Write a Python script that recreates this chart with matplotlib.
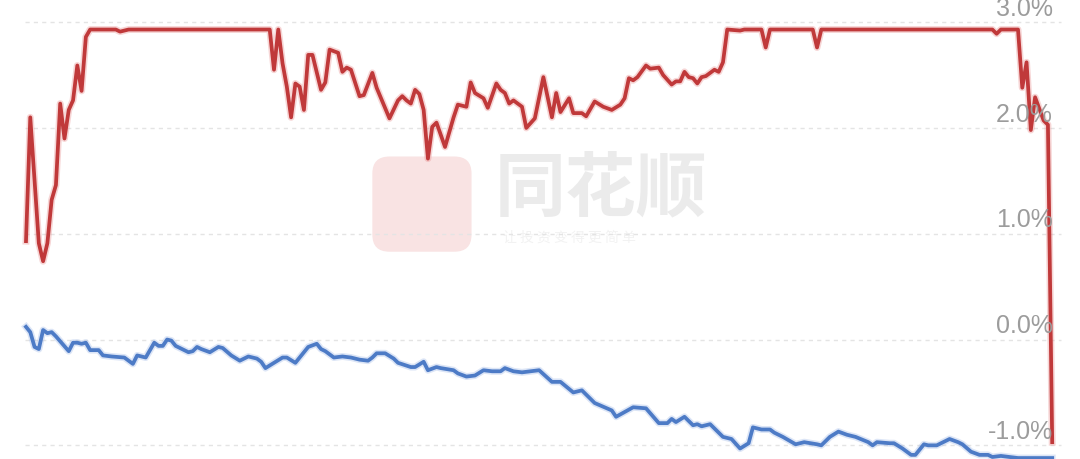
import matplotlib
matplotlib.use("Agg")
import matplotlib.pyplot as plt
from matplotlib.patches import FancyBboxPatch

# ---- data (minute index within the session, % change) ----
red_minutes = [0, 1, 3, 4, 5, 6, 7, 8, 9, 10, 11, 12, 13, 14, 15, 21, 22, 24, 56, 57,
               58, 59, 60, 61, 62, 63, 64, 65, 66, 67, 69, 70, 71, 73, 74, 75, 76, 78, 79, 81,
               82, 85, 87, 88, 89, 90, 91, 92, 93, 94, 95, 96, 98, 100, 101, 103, 104, 105, 107, 108,
               110, 111, 112, 113, 114, 116, 117, 119, 121, 123, 124, 125, 127, 128, 130, 131, 133, 135, 137, 139,
               140, 141, 142, 143, 145, 146, 148, 149, 151, 152, 153, 154, 155, 156, 157, 158, 159, 161, 162, 163,
               164, 167, 168, 172, 173, 174, 184, 185, 186, 226, 227, 228, 232, 233, 234, 235, 236, 238, 239, 240]
red_values = [0.93, 2.10, 0.91, 0.74, 0.91, 1.32, 1.46, 2.23, 1.90, 2.17, 2.26, 2.59, 2.35, 2.86, 2.93, 2.93, 2.91, 2.93, 2.93, 2.93,
              2.55, 2.93, 2.61, 2.39, 2.10, 2.42, 2.39, 2.17, 2.69, 2.69, 2.36, 2.43, 2.74, 2.71, 2.53, 2.57, 2.55, 2.30, 2.31, 2.52,
              2.38, 2.09, 2.26, 2.30, 2.26, 2.23, 2.36, 2.32, 2.17, 1.71, 2.01, 2.05, 1.82, 2.10, 2.22, 2.20, 2.43, 2.33, 2.28, 2.19,
              2.42, 2.36, 2.33, 2.23, 2.26, 2.20, 2.00, 2.09, 2.48, 2.10, 2.33, 2.15, 2.28, 2.14, 2.14, 2.11, 2.25, 2.20, 2.17, 2.22,
              2.28, 2.47, 2.45, 2.48, 2.59, 2.56, 2.57, 2.50, 2.41, 2.44, 2.44, 2.53, 2.48, 2.47, 2.42, 2.48, 2.49, 2.55, 2.53, 2.62,
              2.93, 2.92, 2.93, 2.93, 2.76, 2.93, 2.93, 2.76, 2.93, 2.93, 2.89, 2.93, 2.93, 2.38, 2.62, 1.98, 2.29, 2.07, 2.03, -0.97]

blue_minutes = [0, 1, 2, 3, 4, 5, 6, 7, 10, 11, 12, 13, 14, 15, 17, 18, 20, 23, 25, 26,
                28, 30, 31, 32, 33, 34, 35, 36, 38, 39, 40, 41, 43, 45, 46, 48, 50, 52, 54, 55,
                56, 58, 60, 61, 63, 64, 66, 68, 69, 70, 72, 74, 76, 78, 80, 81, 82, 84, 86, 87,
                90, 91, 93, 94, 96, 97, 100, 101, 103, 105, 107, 109, 111, 112, 114, 116, 120, 123, 125, 128,
                130, 133, 137, 138, 142, 145, 148, 150, 151, 152, 154, 156, 157, 158, 160, 163, 165, 167, 169, 170,
                172, 174, 175, 177, 180, 182, 185, 186, 188, 190, 192, 194, 197, 198, 199, 202, 203, 205, 207, 208,
                210, 211, 213, 214, 216, 218, 219, 221, 223, 225, 226, 228, 230, 232, 234, 237, 240]
blue_values = [0.12, 0.07, -0.07, -0.09, 0.09, 0.06, 0.07, 0.03, -0.11, -0.03, -0.03, -0.04, -0.03, -0.10, -0.10, -0.15, -0.16, -0.17, -0.23, -0.15,
               -0.17, -0.03, -0.06, -0.06, 0.00, -0.01, -0.06, -0.08, -0.12, -0.11, -0.07, -0.09, -0.12, -0.07, -0.08, -0.15, -0.20, -0.16, -0.18, -0.21,
               -0.27, -0.22, -0.17, -0.17, -0.22, -0.17, -0.07, -0.04, -0.09, -0.11, -0.17, -0.16, -0.17, -0.19, -0.20, -0.17, -0.13, -0.13, -0.18, -0.22,
               -0.26, -0.26, -0.21, -0.29, -0.26, -0.27, -0.29, -0.32, -0.35, -0.34, -0.29, -0.30, -0.30, -0.27, -0.30, -0.31, -0.29, -0.40, -0.40, -0.50,
               -0.48, -0.60, -0.67, -0.73, -0.64, -0.65, -0.79, -0.79, -0.75, -0.78, -0.73, -0.81, -0.80, -0.82, -0.80, -0.92, -0.94, -1.03, -0.98, -0.83,
               -0.85, -0.85, -0.88, -0.92, -0.99, -0.97, -0.99, -1.00, -0.92, -0.87, -0.90, -0.92, -0.97, -1.00, -0.97, -0.98, -0.98, -1.03, -1.09, -1.09,
               -0.99, -1.00, -1.00, -0.98, -0.94, -0.97, -0.99, -1.06, -1.09, -1.09, -1.11, -1.10, -1.11, -1.12, -1.12, -1.12, -1.12]

grid_levels = [-1.0, 0.0, 1.0, 2.0, 3.0]
grid_labels = ["-1.0%", "0.0%", "1.0%", "2.0%", "3.0%"]

RED = "#c0393a"
BLUE = "#4d7bc6"

fig = plt.figure(figsize=(10.8, 4.59), dpi=100)
ax = fig.add_axes([0, 0, 1, 1])
ax.set_xlim(-6.08, 246.5)
ax.set_ylim(-1.129, 3.209)
ax.axis("off")

# grid lines
for lv in grid_levels:
    ax.plot([-0.2, 242], [lv, lv], color="#e4e4e4", lw=1.0, ls=(0, (3, 3)), zorder=1)

# watermark
logo = FancyBboxPatch((81.0, 0.83), 23.2, 0.9, boxstyle="round,pad=0,rounding_size=4",
                      facecolor="#f9e3e3", edgecolor="none", zorder=0.5,
                      mutation_aspect=0.04)
ax.add_patch(logo)
ax.text(109.5, 1.42, "同花顺", fontsize=51, color="#ebebeb", ha="left", va="center",
        family=["Noto Sans CJK SC", "DejaVu Sans"], fontweight="bold", style="italic", zorder=0.6)
ax.text(111.5, 0.96, "让 投 资 变 得 更 简 单", fontsize=10, color="#f2f2f2", ha="left", va="center",
        family=["Noto Sans CJK SC", "DejaVu Sans"], zorder=0.6)

# lines
ax.plot(red_minutes, red_values, color="#e88a8a", lw=5.0, alpha=0.35, solid_joinstyle="round", zorder=2)
ax.plot(red_minutes, red_values, color=RED, lw=2.7, solid_joinstyle="round", zorder=3)
ax.plot(blue_minutes, blue_values, color="#9bb6e6", lw=5.0, alpha=0.35, solid_joinstyle="round", zorder=2)
ax.plot(blue_minutes, blue_values, color=BLUE, lw=2.7, solid_joinstyle="round", zorder=3)

# right-side labels
for lv, lab in zip(grid_levels, grid_labels):
    ax.annotate(lab, xy=(240.2, lv), xytext=(0, 4.5), textcoords="offset points",
                ha="right", va="baseline", fontsize=18, color="#9c9c9c",
                family=["Liberation Sans", "DejaVu Sans"], zorder=4)

fig.savefig("out.png", dpi=100, facecolor="white")
